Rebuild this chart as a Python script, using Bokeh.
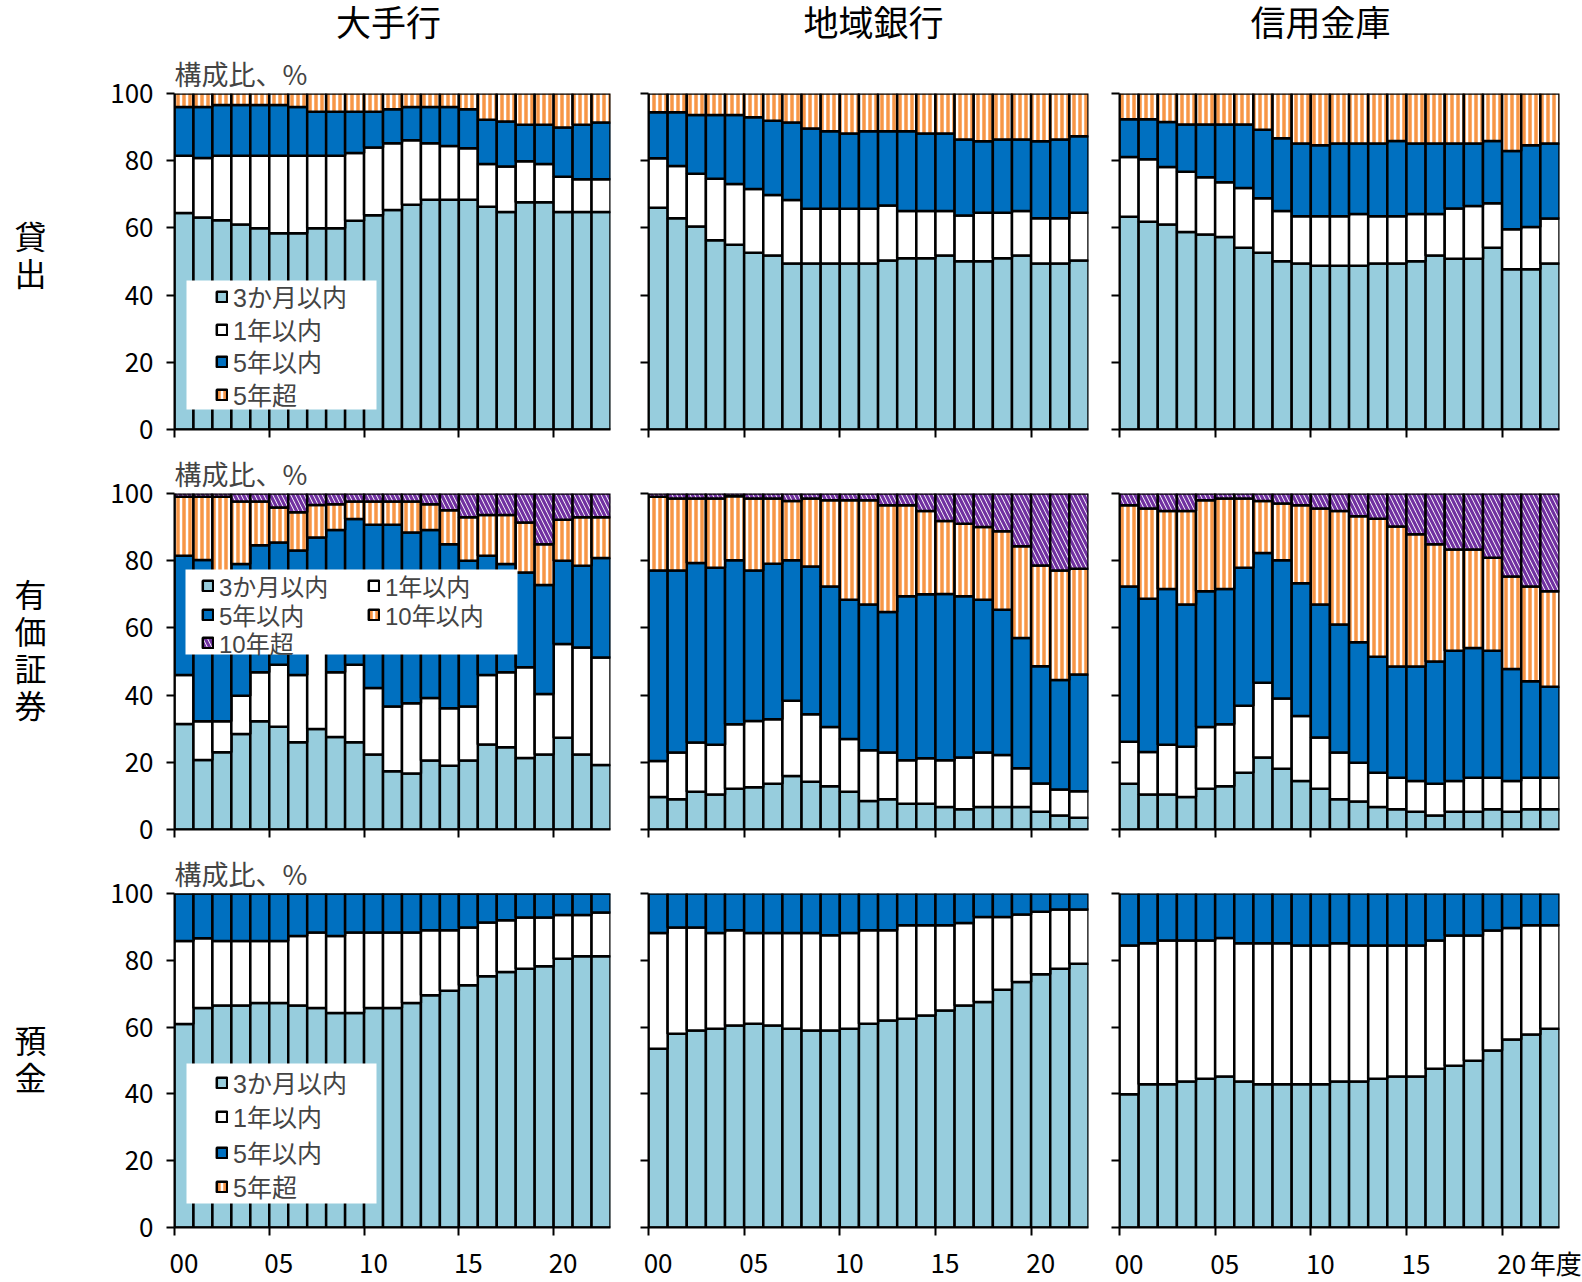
from bokeh.plotting import figure
from bokeh.models import (ColumnDataSource, Range1d, FixedTicker, LinearAxis,
                          Legend, LegendItem, BoxAnnotation)
from bokeh.layouts import column, row
from bokeh.transform import stack
from bokeh.core.properties import value
from bokeh.embed import file_html
from bokeh.resources import INLINE

FONT = "Noto Sans CJK JP"
# Latin face first (compact line metrics), kanji fall through to the CJK face
COMPACT_FONT = "Liberation Sans, Noto Sans CJK JP"

# ---------------------------------------------------------------- data
years = list(range(2000, 2023))           # fiscal years 2000-2022
tick_years = [2000, 2005, 2010, 2015, 2020]
banks = ["大手行", "地域銀行", "信用金庫"]
assets = ["貸出", "有価証券", "預金"]

# 貸出 (loans), share by remaining maturity, %
loan_major_m3 = [64.4, 63.1, 62.3, 61.0, 59.9, 58.4, 58.4, 59.9, 59.9, 62.1, 63.8, 65.3,
                 66.9, 68.4, 68.4, 68.4, 66.3, 64.7, 67.6, 67.6, 64.7, 64.7, 64.7]
loan_major_y1 = [17.1, 17.7, 19.2, 20.5, 21.6, 23.1, 23.1, 21.6, 21.6, 20.2, 20.1, 19.9,
                 19.2, 16.8, 16.0, 15.3, 12.7, 13.6, 12.2, 11.4, 10.5, 9.8, 9.8]
loan_major_y5 = [14.5, 15.2, 15.1, 15.1, 15.1, 15.1, 14.5, 13.1, 13.1, 12.3, 10.7, 10.1,
                 9.9, 10.8, 11.6, 11.6, 13.2, 13.4, 10.9, 11.7, 14.7, 16.2, 16.9]
loan_major_over5 = [4.0, 4.0, 3.4, 3.4, 3.4, 3.4, 4.0, 5.4, 5.4, 5.4, 5.4, 4.7,
                    4.0, 4.0, 4.0, 4.7, 7.8, 8.3, 9.3, 9.3, 10.1, 9.3, 8.6]

loan_regional_m3 = [66.0, 62.9, 60.4, 56.3, 55.0, 52.6, 51.8, 49.4, 49.4, 49.4, 49.4, 49.4,
                    50.3, 51.0, 51.0, 51.8, 50.1, 50.1, 51.0, 51.8, 49.4, 49.4, 50.3]
loan_regional_y1 = [14.7, 15.5, 15.7, 18.3, 18.1, 19.0, 18.0, 18.9, 16.3, 16.3, 16.3, 16.3,
                    16.4, 14.0, 14.0, 13.2, 13.6, 14.4, 13.5, 13.2, 13.5, 13.5, 14.2]
loan_regional_y5 = [13.7, 16.0, 17.5, 19.0, 20.5, 21.3, 22.1, 23.1, 23.9, 23.1, 22.4, 23.1,
                    22.1, 23.8, 23.1, 23.1, 22.6, 21.3, 21.8, 21.3, 22.9, 23.4, 22.8]
loan_regional_over5 = [5.6, 5.6, 6.4, 6.4, 6.4, 7.1, 8.1, 8.6, 10.4, 11.2, 11.9, 11.2,
                       11.2, 11.2, 11.9, 11.9, 13.7, 14.2, 13.7, 13.7, 14.2, 13.7, 12.7]

loan_shinkin_m3 = [63.3, 61.8, 61.0, 58.8, 58.0, 57.3, 54.1, 52.6, 50.1, 49.4, 48.7, 48.7,
                   48.7, 49.4, 49.4, 50.1, 51.8, 50.8, 50.8, 54.1, 47.7, 47.7, 49.4]
loan_shinkin_y1 = [17.8, 18.6, 17.1, 17.9, 17.1, 16.3, 17.8, 16.2, 14.9, 14.1, 14.8, 14.8,
                   15.4, 14.1, 14.1, 14.0, 12.3, 15.0, 15.7, 13.2, 11.9, 12.6, 13.4]
loan_shinkin_y5 = [11.2, 11.9, 13.4, 14.1, 15.7, 17.2, 18.9, 20.4, 21.7, 21.6, 21.1, 21.6,
                   21.0, 21.6, 22.4, 21.0, 21.0, 19.3, 18.6, 18.6, 23.3, 24.3, 22.3]
loan_shinkin_over5 = [7.7, 7.7, 8.5, 9.2, 9.2, 9.2, 9.2, 10.8, 13.3, 14.9, 15.4, 14.9,
                      14.9, 14.9, 14.1, 14.9, 14.9, 14.9, 14.9, 14.1, 17.1, 15.4, 14.9]

# 有価証券 (securities)
sec_major_m3 = [31.4, 20.7, 23.0, 28.4, 32.2, 30.6, 26.0, 29.9, 27.5, 26.0, 22.3, 17.3,
                16.7, 20.5, 19.0, 20.5, 25.3, 24.5, 21.3, 22.3, 27.3, 22.3, 19.2]
sec_major_y1 = [14.6, 11.5, 9.2, 11.4, 14.6, 18.4, 20.0, 23.1, 19.3, 23.0, 19.8, 19.3,
                20.9, 18.6, 17.1, 16.1, 20.7, 22.3, 27.0, 18.0, 27.9, 31.9, 32.0]
sec_major_y5 = [35.5, 48.0, 44.3, 39.2, 37.8, 36.4, 37.0, 33.9, 42.3, 43.4, 48.6, 54.1,
                50.8, 50.0, 48.8, 43.4, 35.5, 32.2, 28.2, 32.5, 24.8, 24.3, 29.6]
sec_major_y10 = [17.5, 18.8, 22.5, 18.6, 13.0, 10.4, 11.4, 9.7, 7.7, 5.2, 6.9, 6.9,
                 9.2, 7.7, 10.1, 12.9, 12.1, 14.6, 14.9, 12.1, 12.2, 14.4, 12.1]
sec_major_over10 = [1.0, 1.0, 1.0, 2.4, 2.4, 4.2, 5.6, 3.4, 3.2, 2.4, 2.4, 2.4,
                    2.4, 3.2, 5.0, 7.1, 6.4, 6.4, 8.6, 15.1, 7.8, 7.1, 7.1]

sec_regional_m3 = [9.7, 9.0, 11.2, 10.4, 12.1, 12.6, 13.6, 15.9, 14.2, 12.9, 11.2, 8.5,
                   9.0, 7.7, 7.7, 6.7, 6.0, 6.7, 6.7, 6.7, 5.3, 4.2, 3.5]
sec_regional_y1 = [10.7, 13.9, 14.7, 14.8, 19.2, 19.7, 19.2, 22.4, 20.1, 17.6, 15.7, 15.1,
                   13.9, 12.9, 13.5, 13.9, 15.4, 16.2, 15.5, 11.5, 8.4, 7.7, 7.9]
sec_regional_y5 = [56.7, 54.2, 53.4, 52.7, 48.8, 44.8, 46.3, 41.8, 44.0, 41.8, 41.5, 43.4,
                   41.8, 48.8, 48.8, 49.5, 48.0, 45.5, 43.2, 38.8, 34.9, 32.6, 34.7]
sec_regional_y10 = [21.9, 21.4, 19.2, 20.6, 19.1, 21.4, 19.4, 17.7, 20.2, 25.7, 29.6, 31.0,
                    31.8, 27.1, 24.8, 21.7, 21.6, 21.6, 23.4, 27.3, 30.0, 32.6, 31.5]
sec_regional_over10 = [1.0, 1.5, 1.5, 1.5, 0.8, 1.5, 1.5, 2.2, 1.5, 2.0, 2.0, 2.0,
                       3.5, 3.5, 5.2, 8.2, 9.0, 10.0, 11.2, 15.7, 21.4, 22.9, 22.4]

sec_shinkin_m3 = [13.6, 10.4, 10.4, 9.7, 12.1, 12.9, 16.9, 21.4, 18.1, 14.4, 12.1, 9.0,
                  8.3, 6.7, 6.0, 5.3, 4.2, 5.3, 5.3, 6.0, 5.3, 6.0, 6.0]
sec_shinkin_y1 = [12.5, 12.7, 14.8, 14.9, 18.4, 18.4, 19.9, 22.3, 20.9, 19.4, 15.3, 13.9,
                  11.6, 10.2, 9.4, 9.1, 9.4, 9.1, 10.1, 9.4, 9.1, 9.4, 9.4]
sec_shinkin_y5 = [46.2, 45.6, 46.4, 42.4, 40.4, 40.3, 41.1, 38.6, 41.1, 39.5, 39.6, 38.1,
                  35.8, 34.5, 33.1, 34.1, 36.4, 38.8, 38.6, 37.8, 33.4, 28.7, 27.1]
sec_shinkin_y10 = [24.2, 26.8, 23.2, 27.8, 27.1, 26.9, 20.6, 15.5, 16.9, 23.2, 28.5, 33.8,
                   37.5, 41.1, 41.7, 39.4, 34.9, 30.1, 29.3, 27.7, 27.5, 28.2, 28.4]
sec_shinkin_over10 = [3.5, 4.5, 5.2, 5.2, 2.0, 1.5, 1.5, 2.2, 3.0, 3.5, 4.5, 5.2,
                      6.8, 7.5, 9.8, 12.1, 15.1, 16.7, 16.7, 19.1, 24.7, 27.7, 29.1]

# 預金 (deposits); nothing is held beyond five years
dep_major_m3 = [60.9, 65.7, 66.5, 66.5, 67.2, 67.2, 66.5, 65.7, 64.2, 64.2, 65.7, 65.7,
                67.2, 69.5, 70.9, 72.5, 75.2, 76.5, 77.5, 78.2, 80.5, 81.2, 81.2]
dep_major_y1 = [24.9, 20.9, 19.3, 19.3, 18.6, 18.6, 20.8, 22.6, 23.1, 24.1, 22.6, 22.6,
                21.1, 19.5, 18.1, 17.3, 16.1, 15.5, 15.3, 14.6, 13.1, 12.4, 13.1]
dep_major_y5 = [14.2, 13.4, 14.2, 14.2, 14.2, 14.2, 12.7, 11.7, 12.7, 11.7, 11.7, 11.7,
                11.7, 11.0, 11.0, 10.2, 8.7, 8.0, 7.2, 7.2, 6.4, 6.4, 5.7]
dep_major_over5 = [0.0, 0.0, 0.0, 0.0, 0.0, 0.0, 0.0, 0.0, 0.0, 0.0, 0.0, 0.0,
                   0.0, 0.0, 0.0, 0.0, 0.0, 0.0, 0.0, 0.0, 0.0, 0.0, 0.0]

dep_regional_m3 = [53.5, 58.0, 59.0, 59.5, 60.5, 61.0, 60.5, 59.5, 59.0, 59.0, 59.5, 61.0,
                   62.0, 62.5, 63.5, 65.0, 66.5, 67.5, 71.2, 73.5, 75.8, 77.5, 79.0]
dep_regional_y1 = [34.7, 31.8, 30.8, 28.7, 28.5, 27.2, 27.7, 28.7, 29.2, 28.5, 28.7, 28.0,
                   27.0, 28.0, 27.0, 25.5, 24.7, 25.5, 21.8, 20.2, 18.7, 17.7, 16.2]
dep_regional_y5 = [11.8, 10.2, 10.2, 11.8, 11.0, 11.8, 11.8, 11.8, 11.8, 12.5, 11.8, 11.0,
                   11.0, 9.5, 9.5, 9.5, 8.8, 7.0, 7.0, 6.3, 5.5, 4.8, 4.8]

dep_shinkin_m3 = [39.9, 42.9, 42.9, 43.7, 44.5, 45.2, 43.7, 42.9, 42.9, 42.9, 42.9, 43.7,
                  43.7, 44.5, 45.2, 45.2, 47.5, 48.4, 49.9, 53.0, 56.3, 57.8, 59.5]
dep_shinkin_y1 = [44.5, 42.2, 43.0, 42.2, 41.4, 41.5, 41.4, 42.2, 42.2, 41.5, 41.5, 41.4,
                  40.7, 39.9, 39.2, 39.2, 38.4, 39.0, 37.5, 35.9, 33.4, 32.7, 31.0]
dep_shinkin_y5 = [15.6, 14.9, 14.1, 14.1, 14.1, 13.3, 14.9, 14.9, 14.9, 15.6, 15.6, 14.9,
                  15.6, 15.6, 15.6, 15.6, 14.1, 12.6, 12.6, 11.1, 10.3, 9.5, 9.5]

panels = [
    [dict(m3=loan_major_m3, y1=loan_major_y1, y5=loan_major_y5, over5=loan_major_over5),
     dict(m3=loan_regional_m3, y1=loan_regional_y1, y5=loan_regional_y5, over5=loan_regional_over5),
     dict(m3=loan_shinkin_m3, y1=loan_shinkin_y1, y5=loan_shinkin_y5, over5=loan_shinkin_over5)],
    [dict(m3=sec_major_m3, y1=sec_major_y1, y5=sec_major_y5, y10=sec_major_y10, over10=sec_major_over10),
     dict(m3=sec_regional_m3, y1=sec_regional_y1, y5=sec_regional_y5, y10=sec_regional_y10, over10=sec_regional_over10),
     dict(m3=sec_shinkin_m3, y1=sec_shinkin_y1, y5=sec_shinkin_y5, y10=sec_shinkin_y10, over10=sec_shinkin_over10)],
    [dict(m3=dep_major_m3, y1=dep_major_y1, y5=dep_major_y5, over5=dep_major_over5),
     dict(m3=dep_regional_m3, y1=dep_regional_y1, y5=dep_regional_y5),
     dict(m3=dep_shinkin_m3, y1=dep_shinkin_y1, y5=dep_shinkin_y5)],
]
stack_order = ["m3", "y1", "y5", "y10", "over5", "over10"]
legend_keys = [["m3", "y1", "y5", "over5"],
               ["m3", "y1", "y5", "y10", "over10"],
               ["m3", "y1", "y5", "over5"]]

LABELS = {"m3": "3か月以内", "y1": "1年以内", "y5": "5年以内",
          "y10": "10年以内", "over5": "5年超", "over10": "10年超"}

ORANGE_STRIPES = dict(fill_color="white", hatch_pattern="|", hatch_color="#F79646",
                      hatch_weight=3.5, hatch_scale=6)
STYLE = {
    "m3": dict(fill_color="#97CDDD"),
    "y1": dict(fill_color="white"),
    "y5": dict(fill_color="#0070C0"),
    "y10": ORANGE_STRIPES,
    "over5": ORANGE_STRIPES,
    "over10": dict(fill_color="white", hatch_pattern="\\", hatch_color="#7030A0",
                   hatch_weight=3.2, hatch_scale=9),
}

# ---------------------------------------------------------------- geometry
COLS = [(114, 436, 16), (22, 440, 12), (19, 440, 23)]   # left border, frame, right border
ROWS = [(43, 336, 20), (44, 336, 20), (44, 334, 53)]    # top border, frame, bottom border

# legend: white box (l, r, b, t) and one anchor per entry, relative to the frame
LEGEND_BOX = [(12, 202, 20, 149), (11, 343, 175, 260), (12, 202, 24, 164)]
LEGEND_SLOTS = [
    [(41, 115), (41, 82), (41, 50), (41, 17)],
    [(27, 226), (193, 226), (27, 197), (193, 197), (27, 169)],
    [(41, 127), (41, 93), (41, 57), (41, 23)],
]

UNIT_TICK = years[-1] + 0.3       # where the 年度 unit sits on the last axis


def style_axis(ax, show_labels):
    ax.major_tick_out = 8
    ax.major_tick_in = 0
    ax.minor_tick_out = 0
    ax.minor_tick_in = 0
    ax.axis_line_width = 2
    ax.axis_line_color = "black"
    ax.major_tick_line_width = 2
    ax.major_tick_line_color = "black"
    ax.major_label_text_font = FONT
    ax.major_label_text_color = "black"
    ax.major_label_text_font_size = "26px"
    if not show_labels:
        ticks = ax.ticker.ticks
        ax.major_label_overrides = {t: "" for t in ticks}
        ax.major_label_text_font_size = "1px"
        ax.major_label_standoff = 0


def make_panel(r, c):
    lb, fw, rb = COLS[c]
    tb, fh, bb = ROWS[r]
    p = figure(frame_width=fw, frame_height=fh,
               min_border_left=lb, min_border_right=rb,
               min_border_top=tb, min_border_bottom=bb,
               x_range=Range1d(years[0] - 0.5, years[-1] + 0.5),
               y_range=Range1d(0, 100),
               title="構成比、%" if c == 0 else None,
               output_backend="svg", toolbar_location=None,
               outline_line_color=None, background_fill_color="white")
    p.xgrid.visible = False
    p.ygrid.visible = False
    if c == 0:
        p.title.align = "left"
        p.title.text_font = FONT
        p.title.text_font_size = "27px"
        p.title.text_font_style = "normal"
        p.title.standoff = 2

    # stacked bars
    keys = [k for k in stack_order if k in panels[r][c]]
    data = {"year": years}
    data.update({k: panels[r][c][k] for k in keys})
    src = ColumnDataSource(data)
    rends = {}
    for i, k in enumerate(keys):
        rends[k] = p.vbar(x="year", width=1.0,
                          bottom=stack(*keys[:i]) if i else 0,
                          top=stack(*keys[:i + 1]), source=src,
                          line_color="black", line_width=2.5, **STYLE[k])

    # axes
    p.yaxis.ticker = FixedTicker(ticks=[0, 20, 40, 60, 80, 100])
    style_axis(p.yaxis[0], c == 0)
    if c == 0:
        p.yaxis.major_label_standoff = 13
    p.xaxis.ticker = FixedTicker(ticks=[y - 0.5 for y in tick_years])
    style_axis(p.xaxis[0], False)
    if r == 2:
        label_ticks = list(tick_years)
        overrides = {y: f"{y % 100:02d}" for y in tick_years}
        if c == 2:
            label_ticks.append(UNIT_TICK)
            overrides[UNIT_TICK] = "年度"
        lab = LinearAxis(ticker=FixedTicker(ticks=label_ticks),
                         major_label_overrides=overrides)
        style_axis(lab, True)
        lab.major_tick_out = 0
        lab.axis_line_color = None
        lab.major_tick_line_color = None
        lab.major_label_standoff = 8 if c == 2 else 18
        p.add_layout(lab, "below")

    # legend (left column only): white panel, then one entry per slot
    if c == 0:
        bl, br, bb_, bt = LEGEND_BOX[r]
        p.add_layout(BoxAnnotation(left=bl, right=br, bottom=bb_, top=bt,
                                   left_units="screen", right_units="screen",
                                   bottom_units="screen", top_units="screen",
                                   fill_color="white", fill_alpha=1.0,
                                   line_color=None, line_alpha=0))
        for k, slot in zip(legend_keys[r], LEGEND_SLOTS[r]):
            leg = Legend(items=[LegendItem(label=LABELS[k], renderers=[rends[k]])],
                         location=slot, padding=0, margin=0, spacing=0,
                         glyph_width=13, glyph_height=13, label_standoff=5,
                         label_text_font=COMPACT_FONT,
                         label_text_font_size="24px" if r == 1 else "25px",
                         background_fill_alpha=0, border_line_color=None)
            p.add_layout(leg)
    return p


def text_canvas(w, h, y_top):
    f = figure(width=w, height=h, x_range=Range1d(0, w), y_range=Range1d(y_top + h, y_top),
               min_border=0, output_backend="svg", toolbar_location=None,
               x_axis_location=None, y_axis_location=None, outline_line_color=None)
    f.xgrid.visible = False
    f.ygrid.visible = False
    return f


# column headings
header = text_canvas(1582, 50, 0)
header.text(x=[388, 873, 1320], y=[23, 23, 23], text=banks,
            text_font=value(COMPACT_FONT), text_font_size="35px",
            text_align="center", text_baseline="middle", text_color="black")

# row headings, written vertically
side = text_canvas(60, 1230, 50)
side.text(x=[30, 30, 30], y=[253, 648, 1057], text=["\n".join(a) for a in assets],
          text_font=value(FONT), text_font_size="32px", text_line_height=0.8,
          text_align="center", text_baseline="middle", text_color="black")

grid = column(*[row(*[make_panel(r, c) for c in range(3)]) for r in range(3)])
layout = column(header, row(side, grid))

open("out.html", "w").write(file_html(layout, INLINE))
